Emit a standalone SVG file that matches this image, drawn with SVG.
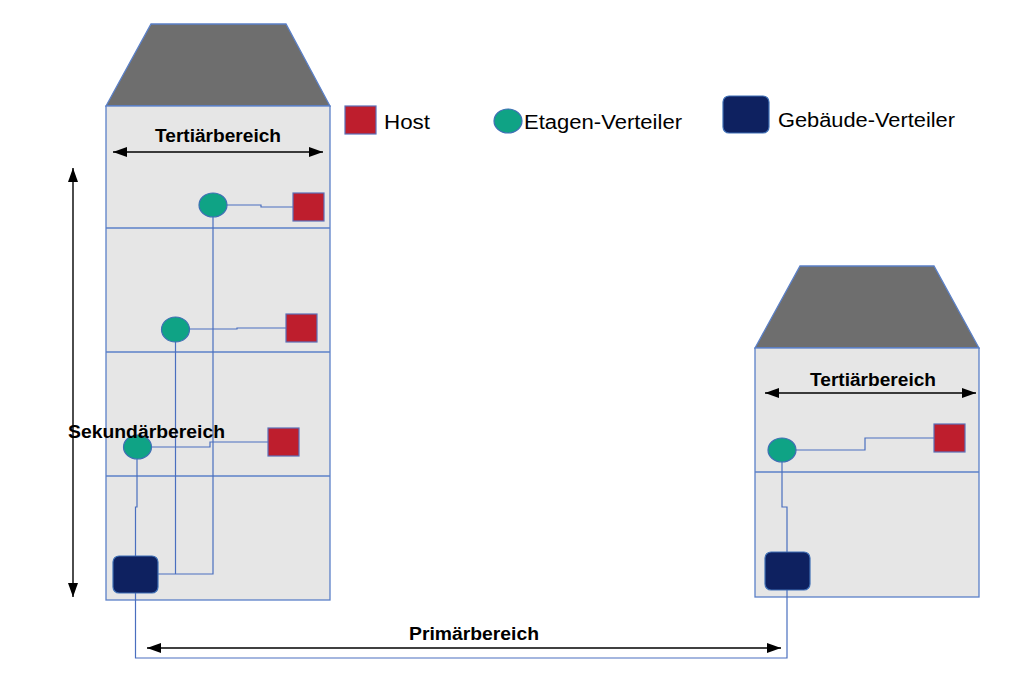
<svg xmlns="http://www.w3.org/2000/svg" width="1024" height="683" viewBox="0 0 1024 683">
<defs>
<style>
.bld{fill:#E6E6E6;stroke:#5B80C8;stroke-width:1.3}
.roof{fill:#6E6E6E;stroke:#5B80C8;stroke-width:1.3}
.fl{stroke:#5B80C8;stroke-width:1.3;fill:none}
.wire{stroke:#4A6FBF;stroke-width:1.2;fill:none}
.host{fill:#BE1E2D;stroke:#5B6FB8;stroke-width:1.2}
.etage{fill:#0FA385;stroke:#3F6FB5;stroke-width:1.2}
.geb{fill:#0E2160;stroke:#3F6FB5;stroke-width:1.2}
.dim{stroke:#000;stroke-width:1.4;fill:none}
.lbl{font-family:"Liberation Sans",Arial,sans-serif;font-weight:bold;font-size:18px;fill:#000}
.leg{font-family:"Liberation Sans",Arial,sans-serif;font-size:20px;fill:#000}
</style>
<marker id="ah" viewBox="0 0 14 10" refX="14" refY="5" markerWidth="14" markerHeight="10" markerUnits="userSpaceOnUse" orient="auto-start-reverse">
<path d="M0,0 L14,5 L0,10 Z" fill="#000"/>
</marker>
</defs>
<rect width="1024" height="683" fill="#fff"/>

<g id="building-left">
<polygon class="roof" points="151,24 286,24 330,106 106,106"/>
<rect class="bld" x="106" y="106" width="224" height="494"/>
<line class="fl" x1="106" y1="228" x2="330" y2="228"/>
<line class="fl" x1="106" y1="352" x2="330" y2="352"/>
<line class="fl" x1="106" y1="476" x2="330" y2="476"/>
</g>

<g id="building-right">
<polygon class="roof" points="800,266 934,266 979,348 755,348"/>
<rect class="bld" x="755" y="348" width="224" height="249"/>
<line class="fl" x1="755" y1="472" x2="979" y2="472"/>
</g>

<g id="connectors">
<path class="wire" d="M227,205 H261 V207 H293"/>
<path class="wire" d="M189,329 H237 V328 H286"/>
<path class="wire" d="M151,447 H210 V442 H268"/>
<path class="wire" d="M213,217 V574 H158"/>
<path class="wire" d="M175.5,342 V574"/>
<path class="wire" d="M137,459 V507 H135.5 V556"/>
<path class="wire" d="M135.5,593 V658 H787 V590"/>
<path class="wire" d="M796,450 H865 V438 H934"/>
<path class="wire" d="M782,462 V507 H787 V552"/>
</g>

<g id="host-1"><rect class="host" x="293" y="193" width="31" height="28"/></g>
<g id="host-2"><rect class="host" x="286" y="314" width="31" height="28"/></g>
<g id="host-3"><rect class="host" x="268" y="428" width="31" height="28"/></g>
<g id="host-4"><rect class="host" x="934" y="424" width="31" height="28"/></g>

<g id="etage-1"><ellipse class="etage" cx="213" cy="205" rx="14" ry="12"/></g>
<g id="etage-2"><ellipse class="etage" cx="175.5" cy="329.5" rx="14" ry="12.5"/></g>
<g id="etage-3"><ellipse class="etage" cx="137.5" cy="447" rx="14" ry="12"/></g>
<g id="etage-4"><ellipse class="etage" cx="782" cy="450" rx="14" ry="12"/></g>

<g id="gebaeude-left"><rect class="geb" x="113" y="556" width="45" height="37" rx="6"/></g>
<g id="gebaeude-right"><rect class="geb" x="765" y="552" width="45" height="38" rx="6"/></g>

<g id="dimensions">
<line class="dim" x1="113" y1="152" x2="323" y2="152" marker-start="url(#ah)" marker-end="url(#ah)"/>
<text class="lbl" x="218" y="142" text-anchor="middle" textLength="126" lengthAdjust="spacingAndGlyphs">Tertiärbereich</text>
<line class="dim" x1="765" y1="393" x2="976" y2="393" marker-start="url(#ah)" marker-end="url(#ah)"/>
<text class="lbl" x="873" y="386" text-anchor="middle" textLength="126" lengthAdjust="spacingAndGlyphs">Tertiärbereich</text>
<line class="dim" x1="73" y1="168" x2="73" y2="597" marker-start="url(#ah)" marker-end="url(#ah)"/>
<text class="lbl" x="68" y="438" textLength="157" lengthAdjust="spacingAndGlyphs">Sekundärbereich</text>
<line class="dim" x1="147" y1="648" x2="781" y2="648" marker-start="url(#ah)" marker-end="url(#ah)"/>
<text class="lbl" x="474" y="640" text-anchor="middle" textLength="130" lengthAdjust="spacingAndGlyphs">Primärbereich</text>
</g>

<g id="legend">
<rect class="host" x="345" y="106" width="31" height="28"/>
<text class="leg" x="384" y="129" textLength="46" lengthAdjust="spacingAndGlyphs">Host</text>
<ellipse class="etage" cx="508" cy="121" rx="14" ry="12"/>
<text class="leg" x="524" y="129" textLength="158" lengthAdjust="spacingAndGlyphs">Etagen-Verteiler</text>
<rect class="geb" x="723" y="96" width="46" height="37" rx="6"/>
<text class="leg" x="778" y="127" textLength="177" lengthAdjust="spacingAndGlyphs">Gebäude-Verteiler</text>
</g>
</svg>
